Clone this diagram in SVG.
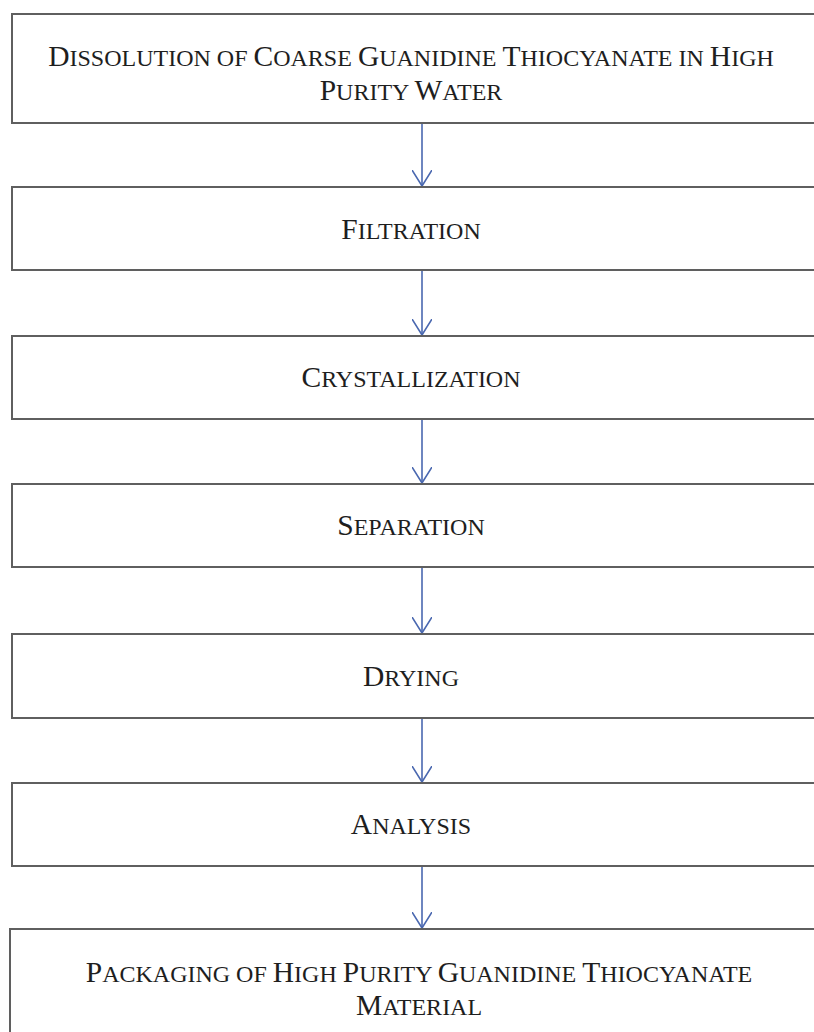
<svg xmlns="http://www.w3.org/2000/svg" width="814" height="1032" viewBox="0 0 814 1032">
<style>
.box{fill:#fff;stroke:#5f5f5f;stroke-width:2}
.t{font-family:"Liberation Serif","Times New Roman",serif;font-size:24px;fill:#1e1e1e;text-anchor:middle}
.b{font-size:29.5px}
.c{stroke:#4a68b0;stroke-width:1.6;fill:none}
</style>
<defs>
<marker id="ah" viewBox="0 0 16 20" refX="16" refY="10" markerWidth="16" markerHeight="20" markerUnits="userSpaceOnUse" orient="auto">
<path d="M0,0 L16,10 L0,20" fill="none" stroke="#4a68b0" stroke-width="1.6"/>
</marker>
</defs>
<rect width="814" height="1032" fill="#fff"/>
<g id="connectors">
<line class="c" x1="422" y1="124" x2="422" y2="186" marker-end="url(#ah)"/>
<line class="c" x1="422" y1="271" x2="422" y2="335" marker-end="url(#ah)"/>
<line class="c" x1="422" y1="420" x2="422" y2="483" marker-end="url(#ah)"/>
<line class="c" x1="422" y1="568" x2="422" y2="633" marker-end="url(#ah)"/>
<line class="c" x1="422" y1="719" x2="422" y2="782" marker-end="url(#ah)"/>
<line class="c" x1="422" y1="867" x2="422" y2="928" marker-end="url(#ah)"/>
</g>
<g id="n1"><rect class="box" x="12" y="14" width="830" height="109"/>
<text class="t" x="411" y="66"><tspan class="b">D</tspan>ISSOLUTION OF <tspan class="b">C</tspan>OARSE <tspan class="b">G</tspan>UANIDINE <tspan class="b">T</tspan>HIOCYANATE IN <tspan class="b">H</tspan>IGH</text>
<text class="t" x="411" y="100"><tspan class="b">P</tspan>URITY <tspan class="b">W</tspan>ATER</text></g>
<g id="n2"><rect class="box" x="12" y="187" width="830" height="83"/>
<text class="t" x="411" y="239"><tspan class="b">F</tspan>ILTRATION</text></g>
<g id="n3"><rect class="box" x="12" y="336" width="830" height="83"/>
<text class="t" x="411" y="387"><tspan class="b">C</tspan>RYSTALLIZATION</text></g>
<g id="n4"><rect class="box" x="12" y="484" width="830" height="83"/>
<text class="t" x="411" y="535"><tspan class="b">S</tspan>EPARATION</text></g>
<g id="n5"><rect class="box" x="12" y="634" width="830" height="84"/>
<text class="t" x="411" y="686"><tspan class="b">D</tspan>RYING</text></g>
<g id="n6"><rect class="box" x="12" y="783" width="830" height="83"/>
<text class="t" x="411" y="834"><tspan class="b">A</tspan>NALYSIS</text></g>
<g id="n7"><rect class="box" x="10" y="929" width="830" height="130"/>
<text class="t" x="419" y="982"><tspan class="b">P</tspan>ACKAGING OF <tspan class="b">H</tspan>IGH <tspan class="b">P</tspan>URITY <tspan class="b">G</tspan>UANIDINE <tspan class="b">T</tspan>HIOCYANATE</text>
<text class="t" x="419" y="1015"><tspan class="b">M</tspan>ATERIAL</text></g>
</svg>
